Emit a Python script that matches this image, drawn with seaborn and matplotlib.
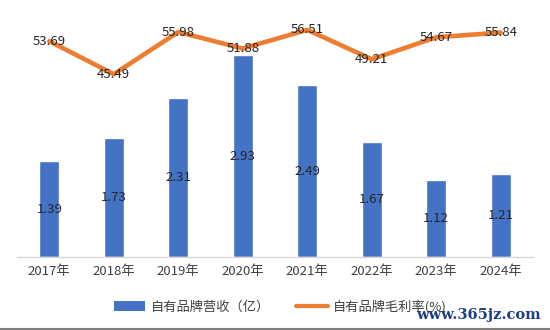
import matplotlib
matplotlib.use("Agg")
import matplotlib.pyplot as plt
from matplotlib.patches import Patch
from matplotlib.lines import Line2D
import seaborn as sns
import pandas as pd

years = ["2017年", "2018年", "2019年", "2020年", "2021年", "2022年", "2023年", "2024年"]
revenue = [1.39, 1.73, 2.31, 2.93, 2.49, 1.67, 1.12, 1.21]
margin = [53.69, 45.49, 55.98, 51.88, 56.51, 49.21, 54.67, 55.84]
bar_label = "自有品牌营收（亿）"
line_label = "自有品牌毛利率(%)"

BLUE = "#4472C4"
ORANGE = "#ED7D31"
TEXT = "#404040"

sns.set_theme(style="white")
plt.rcParams["font.family"] = ["Noto Sans CJK SC", "DejaVu Sans"]

df = pd.DataFrame({"year": years, "revenue": revenue, "margin": margin})

fig = plt.figure(figsize=(5.5, 3.3), dpi=100)
ax = fig.add_axes([0.031, 0.221, 0.938, 0.731])

sns.barplot(data=df, x="year", y="revenue", color=BLUE, width=0.31,
            saturation=1, ax=ax)
ax.set_ylim(0, 3.5)
ax.set_xlim(-0.5, len(years) - 0.5)
ax.set_xlabel("")
ax.set_ylabel("")
ax.set_yticks([])
ax.tick_params(axis="x", length=0, labelsize=9.5, labelcolor=TEXT, pad=6)
for s in ["top", "right", "left"]:
    ax.spines[s].set_visible(False)
ax.spines["bottom"].set_color("#D9D9D9")
ax.spines["bottom"].set_linewidth(1)

for i, v in enumerate(revenue):
    ax.text(i, v / 2, f"{v:.2f}", ha="center", va="center", fontsize=9.5,
            color="#262626")

ax2 = ax.twinx()
sns.lineplot(data=df, x="year", y="margin", color=ORANGE, linewidth=3.3,
             ax=ax2, sort=False)
ax2.set_ylim(0, 60)
ax2.set_yticks([])
ax2.set_ylabel("")
ax2.set_xlabel("")
for s in ax2.spines.values():
    s.set_visible(False)

for i, v in enumerate(margin):
    ax2.text(i, v, f"{v:.2f}", ha="center", va="center", fontsize=9.5,
             color="#262626")

handles = [Patch(facecolor=BLUE, edgecolor="none", label=bar_label),
           Line2D([0], [0], color=ORANGE, lw=3, label=line_label)]
fig.legend(handles=handles, loc="center", bbox_to_anchor=(0.51, 0.07),
           ncol=2, frameon=False, fontsize=9.5, handlelength=2.4,
           handleheight=0.7, columnspacing=2.0, handletextpad=0.4,
           labelcolor=TEXT)

fig.text(0.983, 0.045, "www.365jz.com", ha="right", va="center",
         fontsize=10.5, color="#1F3C88", family="DejaVu Serif",
         weight="bold")
fig.add_artist(Line2D([0, 1], [0.002, 0.002], color="#7F7F7F", lw=1.5,
                      transform=fig.transFigure))

fig.savefig("out.png", dpi=100)
